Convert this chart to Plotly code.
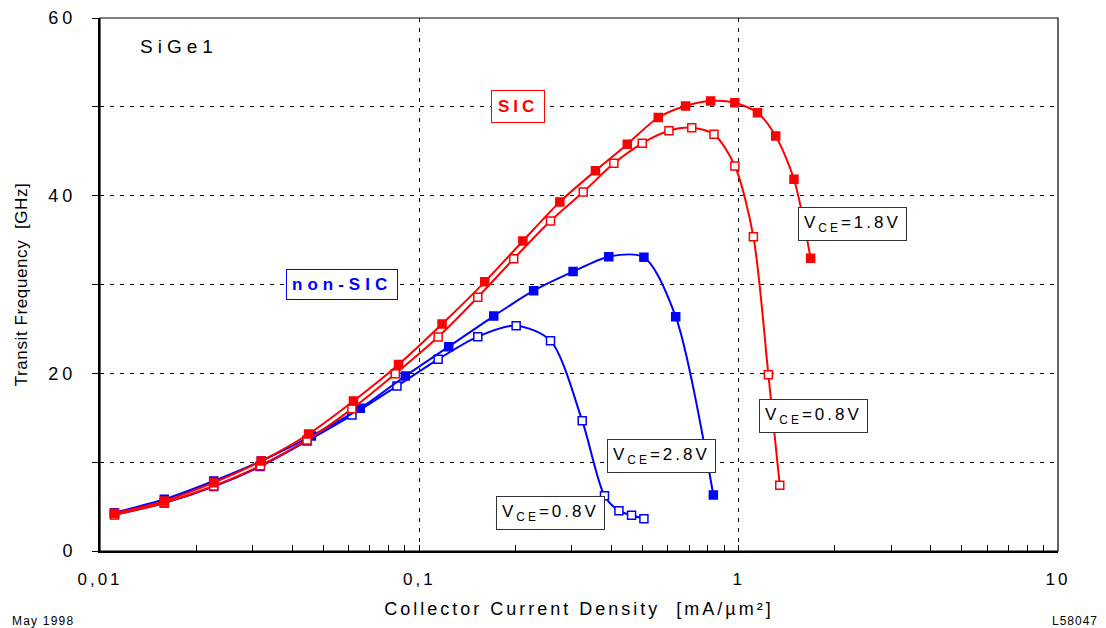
import plotly.graph_objects as go

# ---- data ----
sic18_x = [0.0111, 0.0159, 0.0227, 0.0320, 0.0450, 0.0622, 0.0861, 0.1178, 0.1603, 0.211, 0.2754,
           0.356, 0.448, 0.560, 0.682, 0.817, 0.973, 1.145, 1.306, 1.49, 1.68]
sic18_y = [4.24, 5.63, 7.69, 10.13, 13.17, 16.89, 21.0, 25.55, 30.3, 34.9, 39.3,
           42.8, 45.8, 48.8, 50.1, 50.66, 50.47, 49.34, 46.72, 41.84, 32.95]

sic08_x = [0.0111, 0.0159, 0.0227, 0.0318, 0.0445, 0.0615, 0.0841, 0.1145, 0.1524, 0.1975, 0.2575,
           0.326, 0.4066, 0.499, 0.605, 0.713, 0.837, 0.973, 1.112, 1.239, 1.345]
sic08_y = [4.05, 5.44, 7.32, 9.6, 12.5, 16.0, 19.96, 24.09, 28.56, 32.9, 37.15,
           40.4, 43.64, 45.9, 47.3, 47.65, 46.9, 43.34, 35.38, 19.85, 7.39]

nonsic28_x = [0.0111, 0.0159, 0.0227, 0.0320, 0.0459, 0.0653, 0.0904, 0.1236, 0.171, 0.228, 0.303,
              0.392, 0.505, 0.635, 0.833]
nonsic28_y = [4.3, 5.82, 7.88, 10.13, 12.95, 16.06, 19.7, 23.0, 26.45, 29.3, 31.45,
              33.13, 33.06, 26.38, 6.3]

nonsic08_x = [0.0111, 0.0159, 0.0227, 0.0317, 0.0445, 0.0615, 0.0851, 0.1145, 0.1524, 0.201, 0.2575,
              0.3236, 0.380, 0.4217, 0.462, 0.505]
nonsic08_y = [4.1, 5.4, 7.25, 9.5, 12.38, 15.3, 18.57, 21.58, 24.13, 25.37, 23.68,
              14.67, 6.23, 4.54, 4.02, 3.64]

x_tickvals = [0.01, 0.1, 1, 10]
x_ticktext = ["0,01", "0,1", "1", "10"]
y_tickvals = [0, 20, 40, 60]
y_ticktext = ["0", "20", "40", "60"]

RED = "#FF0000"
BLUE = "#0000FF"
FONT = "Liberation Sans, Arial, sans-serif"
DASH = "4px,6px"


def sp(text, ls=3, size=None):
    st = f"letter-spacing:{ls}px"
    if size:
        st += f";font-size:{size}px"
    return f'<span style="{st}">{text}</span>'


fig = go.Figure()


def add_series(x, y, color, filled):
    fig.add_trace(go.Scatter(
        x=x, y=y, mode="lines+markers",
        line=dict(color=color, width=2, shape="spline", smoothing=0.8),
        marker=dict(symbol="square", size=8,
                    color=color if filled else "white",
                    line=dict(color=color, width=1.5)),
        showlegend=False, cliponaxis=False,
    ))


add_series(nonsic08_x, nonsic08_y, BLUE, False)
add_series(nonsic28_x, nonsic28_y, BLUE, True)
add_series(sic08_x, sic08_y, RED, False)
add_series(sic18_x, sic18_y, RED, True)

W, H = 1106, 628
L, R, T, B = 100, 48, 18, 77
pw, ph = W - L - R, H - T - B


def px(x):
    return (x - L) / pw


def py(y):
    return (H - B - y) / ph


def box(text, cx, cy, color, bold=False, size=17, tcolor=None, ls=3, pad=5):
    t = sp(text, ls, size)
    if bold:
        t = "<b>" + t + "</b>"
    fig.add_annotation(
        x=px(cx), y=py(cy), xref="paper", yref="paper", text=t, showarrow=False,
        font=dict(family=FONT, size=size, color=tcolor or color),
        bordercolor=color, borderwidth=1, borderpad=pad, bgcolor="white",
        xanchor="center", yanchor="middle",
    )


fig.add_annotation(x=px(138), y=py(47), xref="paper", yref="paper", xanchor="left", yanchor="middle",
                   text=sp("SiGe1", 5, 19), showarrow=False,
                   font=dict(family=FONT, size=19, color="black"))

box("SIC", 518, 106, RED, bold=True, size=17, ls=4, pad=6)
box("non-SIC", 342, 284, BLUE, bold=True, size=17, ls=5, pad=5)
box("V<sub>CE</sub>=1.8V", 852, 224, "#333333", size=17, tcolor="black")
box("V<sub>CE</sub>=0.8V", 813, 416, "#333333", size=17, tcolor="black")
box("V<sub>CE</sub>=2.8V", 661, 456, "#333333", size=17, tcolor="black")
box("V<sub>CE</sub>=0.8V", 550, 513, "#333333", size=17, tcolor="black")

fig.add_annotation(x=px(10), y=py(621), xref="paper", yref="paper",
                   xanchor="left", yanchor="middle", showarrow=False,
                   text=sp("May 1998", 1.2, 12), font=dict(family=FONT, size=12, color="black"))
fig.add_annotation(x=px(1100), y=py(621), xref="paper", yref="paper",
                   xanchor="right", yanchor="middle", showarrow=False,
                   text=sp("L58047", 1, 12), font=dict(family=FONT, size=12, color="black"))

# frame (top/right border)
fig.add_shape(type="rect", xref="paper", yref="paper", x0=0, y0=0, x1=1, y1=1,
              line=dict(color="black", width=1.2), layer="above")

# minor tick positions on the log axis (2..9 in each decade)
minor_x = [m * 10.0 ** d for d in (-2, -1, 0) for m in range(2, 10)]

fig.update_layout(
    template="none",
    width=W, height=H,
    margin=dict(l=L, r=R, t=T, b=B, pad=0),
    paper_bgcolor="white", plot_bgcolor="white",
    font=dict(family=FONT, color="black"),
    xaxis=dict(
        type="log", range=[-2, 1], automargin=False,
        tickmode="array", tickvals=x_tickvals, ticktext=[sp(t, 3, 17) for t in x_ticktext],
        tickfont=dict(size=17), ticks="inside", ticklen=6, tickcolor="black",
        ticklabelstandoff=12,
        showgrid=True, gridcolor="black", gridwidth=1, griddash=DASH,
        minor=dict(tickmode="array", tickvals=minor_x, ticks="inside", ticklen=6,
                   tickcolor="black", tickwidth=1, showgrid=False),
        showline=True, linecolor="black", linewidth=2,
        title=dict(text=sp("Collector Current Density  [mA/µm²]", 3, 18),
                   font=dict(size=18), standoff=14),
        zeroline=False,
    ),
    yaxis=dict(
        range=[0, 60], automargin=False,
        tickmode="array", tickvals=y_tickvals, ticktext=[sp(t, 4, 18) for t in y_ticktext],
        tickfont=dict(size=18), ticks="outside", ticklen=6, tickcolor="black",
        ticklabelstandoff=12,
        showgrid=True, gridcolor="black", gridwidth=1, griddash=DASH,
        minor=dict(dtick=10, tick0=0, ticks="outside", ticklen=6, tickcolor="black",
                   showgrid=True, gridcolor="black", gridwidth=1, griddash=DASH),
        showline=True, linecolor="black", linewidth=2,
        title=dict(text=sp("Transit Frequency  [GHz]", 0.6, 17), font=dict(size=17), standoff=16),
        zeroline=False,
    ),
)

fig.write_html("out.html")
